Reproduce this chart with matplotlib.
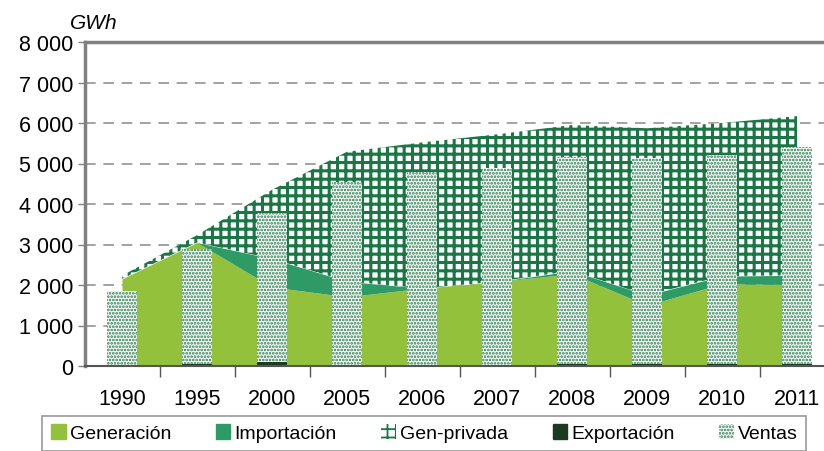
import numpy as np
import matplotlib.pyplot as plt
from matplotlib.patches import Patch
from matplotlib.ticker import FuncFormatter

plt.rcParams['font.family'] = ['Liberation Sans', 'DejaVu Sans']

years = ['1990', '1995', '2000', '2005', '2006', '2007', '2008', '2009', '2010', '2011']
generacion = [2150, 3050, 1950, 1710, 1920, 2080, 2280, 1500, 2030, 2010]
importacion = [0, 0, 700, 380, 0, 0, 70, 250, 190, 230]
total_oferta = [2230, 3230, 4350, 5290, 5520, 5720, 5950, 5870, 6000, 6170]
exportacion = [0, 40, 90, 30, 0, 0, 40, 50, 50, 60]
ventas = [1850, 2850, 3690, 4520, 4790, 4890, 5120, 5080, 5150, 5350]

c_gen = '#93c13c'
c_imp = '#2e9a66'
c_priv = '#1a7644'
c_exp = '#1c3a22'
c_ven = '#237a4a'

x = np.arange(len(years))
gen = np.array(generacion)
imp = gen + np.array(importacion)
tot = np.array(total_oferta)

fig = plt.figure(figsize=(8.24, 4.52), dpi=100)
ax = fig.add_axes([84.5 / 824, 85 / 452, 750 / 824, 324 / 452])

ax.fill_between(x, 0, gen, color=c_gen, lw=0, zorder=2)
ax.fill_between(x, gen, imp, color=c_imp, lw=0, zorder=2)
plt.rcParams['hatch.linewidth'] = 2.2
ax.fill_between(x, imp, tot, facecolor='white', edgecolor=c_priv, hatch='++', lw=0, zorder=2)

plt.rcParams['hatch.linewidth'] = 1.3
ax.bar(x, exportacion, width=0.4, color=c_exp, lw=0, zorder=3)
ax.bar(x, ventas, width=0.4, bottom=exportacion, facecolor='white', edgecolor=c_ven,
       hatch='.....', lw=0, zorder=3)

ax.set_xlim(-0.5, len(years) - 0.5)
ax.set_ylim(0, 8000)
ax.set_yticks(np.arange(0, 8001, 1000))
ax.yaxis.set_major_formatter(FuncFormatter(lambda v, p: f'{int(v):,}'.replace(',', ' ')))
ax.set_xticks(x)
ax.set_xticklabels(years)
ax.set_xticks(x[:-1] + 0.5, minor=True)
ax.tick_params(axis='x', which='major', length=0, pad=16, labelsize=15.5)
ax.tick_params(axis='x', which='minor', length=8, width=1, color='#555555', direction='out')
ax.tick_params(axis='y', length=5, width=1, color='#808080', labelsize=15.5, pad=3)

for v in range(1000, 8000, 1000):
    ax.axhline(v, color='#8a8a8a', lw=1.1, ls=(0, (7, 5)), zorder=1)

for s in ['left', 'top']:
    ax.spines[s].set_color('#808080')
    ax.spines[s].set_linewidth(2.5)
ax.spines['bottom'].set_color('#555555')
ax.spines['bottom'].set_linewidth(1.5)
ax.spines['bottom'].set_zorder(5)
ax.spines['right'].set_visible(False)

fig.text(0.085, 0.948, 'GWh', style='italic', fontsize=15, va='center')

handles = [
    Patch(color=c_gen, label='Generación'),
    Patch(color=c_imp, label='Importación'),
    Patch(facecolor='white', edgecolor=c_priv, hatch='++', lw=0, label='Gen-privada'),
    Patch(color=c_exp, label='Exportación'),
    Patch(facecolor='white', edgecolor=c_ven, hatch='.....', lw=0, label='Ventas'),
]
leg = fig.legend(handles=handles, loc='upper center', bbox_to_anchor=(0.515, 0.078), ncol=5,
                 fontsize=14, frameon=True, fancybox=False, edgecolor='#808080',
                 handlelength=0.75, handleheight=0.75, handletextpad=0.2, columnspacing=2.3,
                 borderpad=0.45, borderaxespad=0)
leg.get_frame().set_linewidth(1.2)

fig.savefig('out.png', dpi=100)
